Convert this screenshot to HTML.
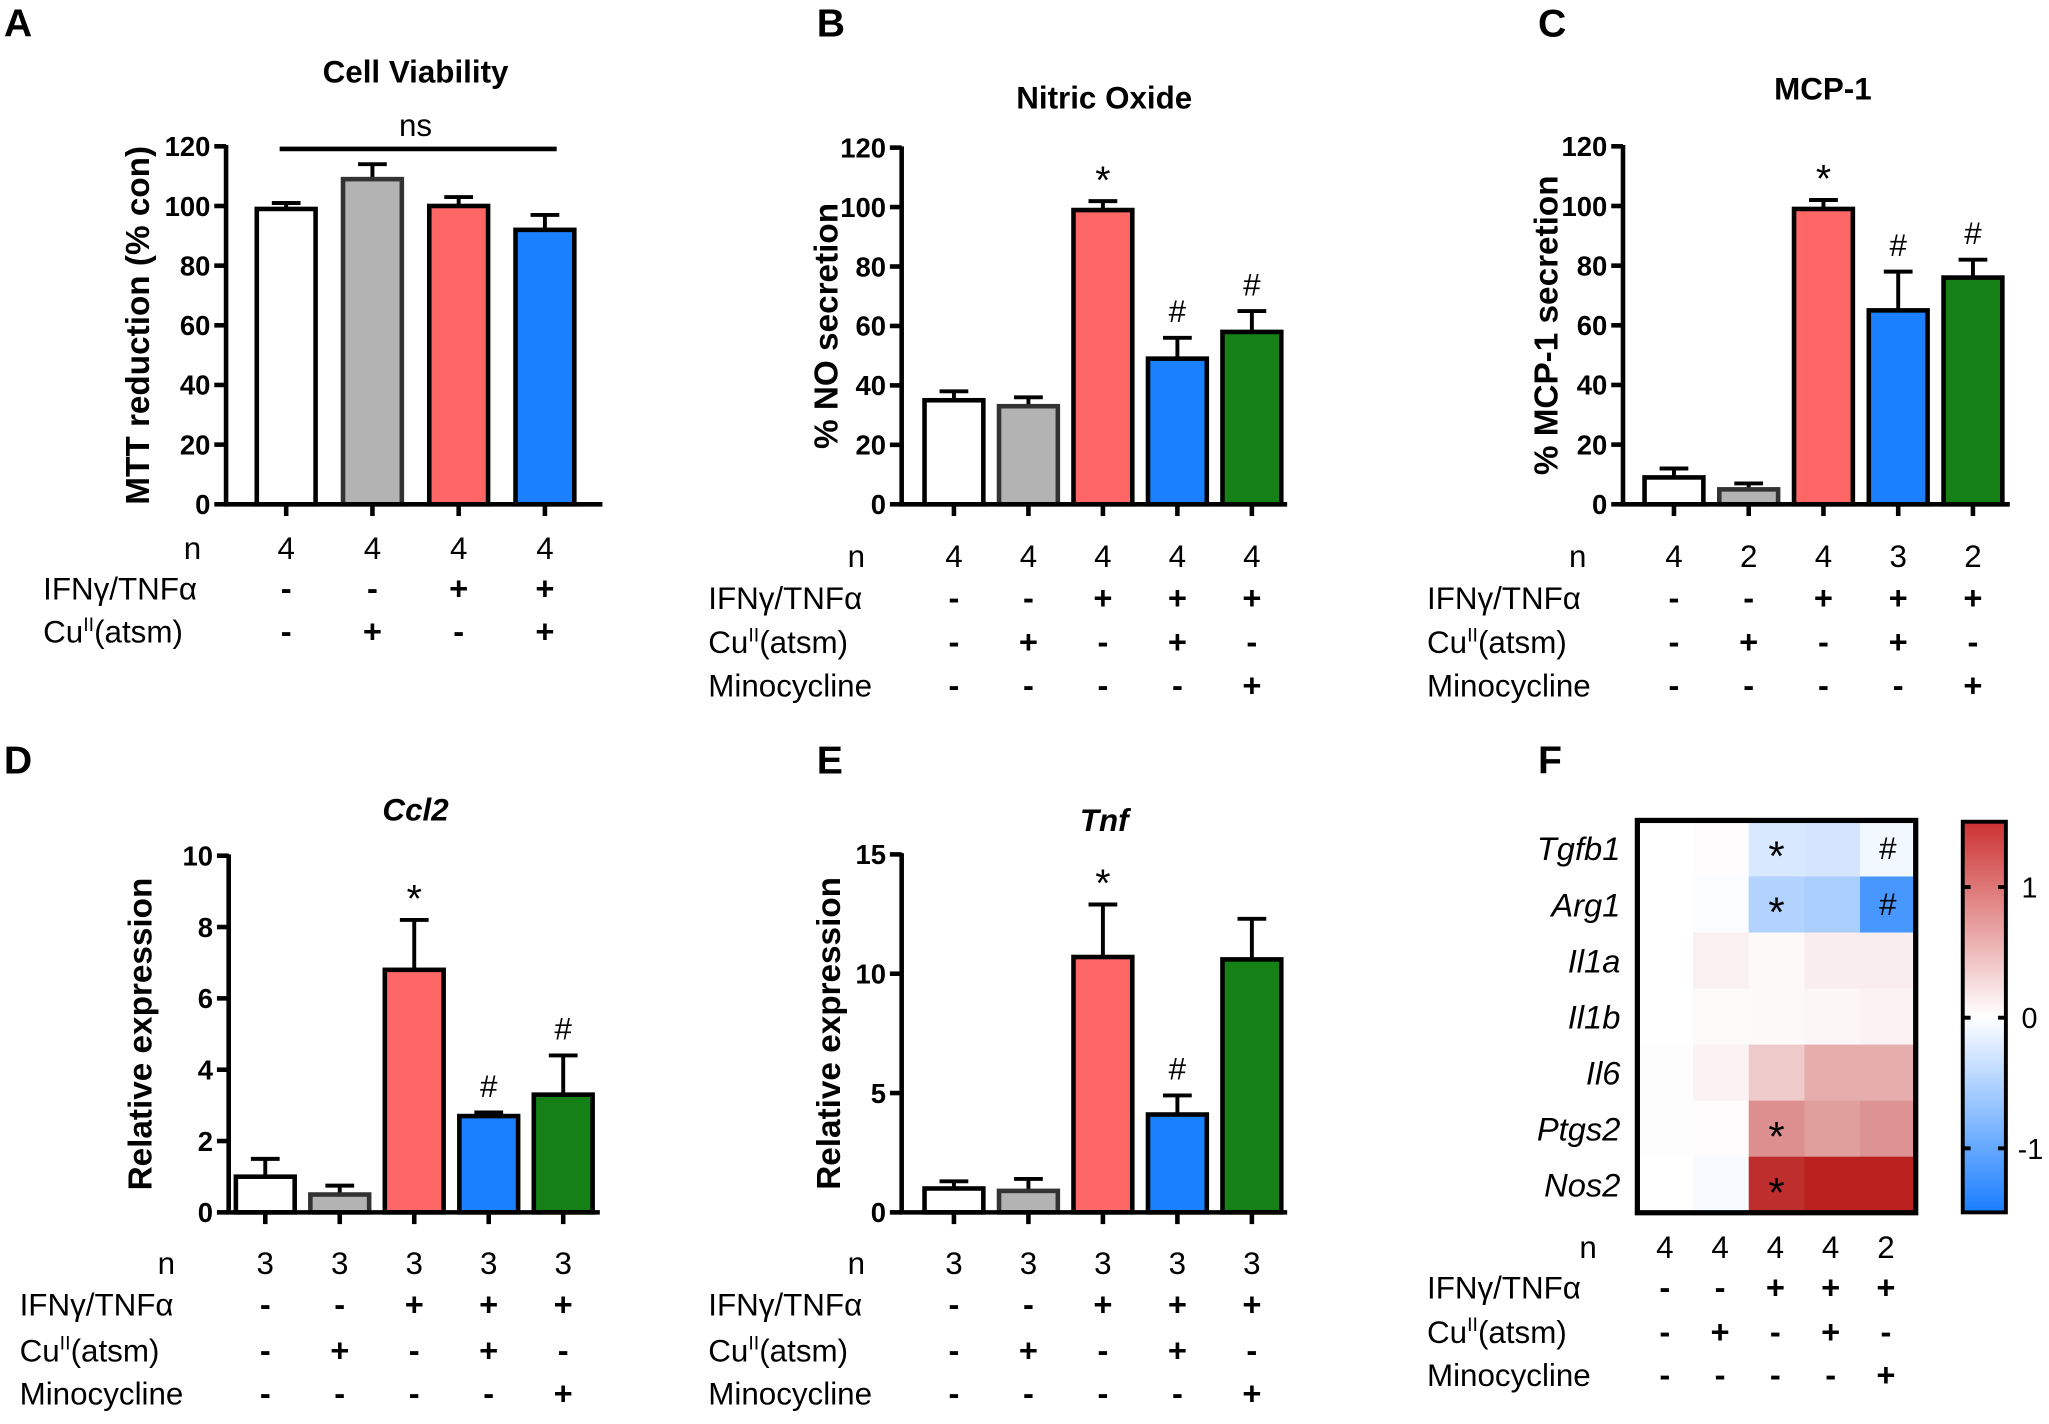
<!DOCTYPE html>
<html><head><meta charset="utf-8"><style>
body{margin:0;background:#fff;}
svg{display:block;}
text{font-family:"Liberation Sans",Arial,sans-serif;fill:#000;}
</style></head><body>
<svg id="fig" width="2049" height="1424" viewBox="0 0 1568 1090" preserveAspectRatio="none" xmlns="http://www.w3.org/2000/svg"></svg>
<script>
// ---- data ----
const aValues=[99,109,100,92];
const aErrors=[2,5,3,5];
const aN=["4","4","4","4"];
const bValues=[35,33,99,49,58];
const bErrors=[3,3,3,7,7];
const bN=["4","4","4","4","4"];
const bAnnot=["","","*","#","#"];
const cValues=[9,5,99,65,76];
const cErrors=[3,2,3,13,6];
const cN=["4","2","4","3","2"];
const cAnnot=["","","*","#","#"];
const dValues=[1.0,0.5,6.8,2.7,3.3];
const dErrors=[0.5,0.25,1.4,0.1,1.1];
const dN=["3","3","3","3","3"];
const dAnnot=["","","*","#","#"];
const eValues=[1.0,0.9,10.7,4.1,10.6];
const eErrors=[0.3,0.5,2.2,0.8,1.7];
const eN=["3","3","3","3","3"];
const eAnnot=["","","*","#",""];
const ticks120=[0,20,40,60,80,100,120];
const ticks10=[0,2,4,6,8,10];
const ticks15=[0,5,10,15];
const heatRows=["Tgfb1","Arg1","Il1a","Il1b","Il6","Ptgs2","Nos2"];
const heatN=["4","4","4","4","2"];
const heatValues=[
 [0,0.02,-0.25,-0.28,-0.08],
 [0,-0.03,-0.5,-0.55,-1.2],
 [0,0.1,0.04,0.12,0.12],
 [0,0.03,0.04,0.06,0.08],
 [0.01,0.08,0.35,0.55,0.55],
 [0.01,0.02,0.75,0.65,0.72],
 [0,-0.05,1.4,1.5,1.5]];
const heatAnnot=[["","","*","","#"],["","","*","","#"],["","","","",""],["","","","",""],["","","","",""],["","","*","",""],["","","*","",""]];
const colorTicks=[1,0,-1];
const ifn4=["-","-","+","+"], cu4=["-","+","-","+"];
const ifn5=["-","-","+","+","+"], cu5=["-","+","-","+","-"], mino5=["-","-","-","-","+"];
const barColors=["#ffffff","#b3b3b3","#ff6666","#1a80ff","#158015"];

const svg=document.getElementById('fig');
const NS="http://www.w3.org/2000/svg";
function el(tag,attrs,parent,txt){const e=document.createElementNS(NS,tag);for(const k in attrs)e.setAttribute(k,attrs[k]);if(txt!==undefined)e.textContent=txt;(parent||svg).appendChild(e);return e;}

function barChart(o){
  const g=el('g',{},svg);
  
  
  const y=v=>o.y0-(v/o.max)*(o.y0-o.yTop);
  const t=el('text',{x:o.titleX,y:o.titleY,'font-size':24,'font-weight':'bold','text-anchor':'middle','font-style':o.italic?'italic':'normal'},g,o.title);
  
  
  const L=el('text',{x:o.letterX,y:o.letterY,'font-size':30,'font-weight':'bold'},g,o.letter);
  
  
  const yl=el('text',{transform:`translate(${o.ylX},${(o.y0+o.yTop)/2}) rotate(-90)`,'font-size':25.5,'font-weight':'bold','text-anchor':'middle'},g,o.ylabel);
  
  
  o.ticks.forEach(tv=>{
    const tl=el('line',{x1:o.ax-9,x2:o.ax,y1:y(tv),y2:y(tv),stroke:'#000','stroke-width':3.5},g);
    
    
    const tt=el('text',{x:o.ax-12,y:y(tv)+7.5,'font-size':21,'font-weight':'bold','text-anchor':'end'},g,String(tv));
    
    
  });
  o.values.forEach((v,i)=>{
    const cx=o.x0+i*o.step;
    const top=y(v), et=y(v+o.errors[i]);
    const eb=el('line',{x1:cx,x2:cx,y1:top,y2:et,stroke:'#000','stroke-width':3},g);
    
    
    const ec=el('line',{x1:cx-11,x2:cx+11,y1:et,y2:et,stroke:'#000','stroke-width':3},g);
    
    
    const r=el('rect',{x:cx-o.bw/2,y:top,width:o.bw,height:o.y0-top,fill:barColors[i],stroke:i==1?'#333':'#000','stroke-width':3.5},g);
    
    
    const xt=el('line',{x1:cx,x2:cx,y1:o.y0,y2:o.y0+9,stroke:'#000','stroke-width':3.5},g);
    
    
    if(o.annot&&o.annot[i]){
      const star=o.annot[i]=='*';
      const a=el('text',{x:cx,y:et-(star?6:12),'font-size':star?30:24,'text-anchor':'middle'},g,o.annot[i]);
      
      
    }
  });
  const ya=el('line',{x1:o.ax,x2:o.ax,y1:o.yTop-1,y2:o.y0+1.5,stroke:'#000','stroke-width':3.5},g);
  
  
  const xa=el('line',{x1:o.ax-1.5,x2:o.xEnd,y1:o.y0,y2:o.y0,stroke:'#000','stroke-width':3.5},g);
  
  
  table(g,o.x0,o.step,o.rows,o.labelX,o.nX);
}
function table(g,x0,step,rows,labelX,nX){
  rows.forEach((r,ri)=>{
    const lab=el('text',{x:r.label=='n'?nX:labelX,y:r.y+8,'font-size':24,'text-anchor':r.label=='n'?'end':'start'},g);
    
    
    if(r.label=='Cu'){lab.textContent='Cu';el('tspan',{'font-size':15,dy:-9},lab,'II');el('tspan',{dy:9},lab,'(atsm)');}
    else if(r.label=='IFN'){lab.textContent='IFNγ/TNFα';}
    else lab.textContent=r.label;
    r.vals.forEach((v,i)=>{
      const t=el('text',{x:x0+i*step,y:r.y+8,'font-size':r.label=='n'?24:25,'text-anchor':'middle','font-weight':r.label=='n'?'normal':'bold'},g,v=='-'?'-':v);
      
      
    });
  });
}

barChart({name:'panel-a-cell-viability',letter:'A',letterX:3,letterY:28,title:'Cell Viability',titleX:318,titleY:63,ylabel:'MTT reduction (% con)',ylX:114,
  values:aValues,errors:aErrors,annot:null,ax:173,y0:386,yTop:112,max:120,ticks:ticks120,x0:219,step:66,bw:45,xEnd:461,
  rows:[{label:'n',y:420,vals:aN},{label:'IFN',y:451,vals:ifn4},{label:'Cu',y:484,vals:cu4}],labelX:33,nX:154});
const ns=el('line',{x1:214,x2:426,y1:114,y2:114,stroke:'#000','stroke-width':3.5});


const nst=el('text',{x:318,y:104,'font-size':24,'text-anchor':'middle'},svg,'ns');



barChart({name:'panel-b-nitric-oxide',letter:'B',letterX:625,letterY:28,title:'Nitric Oxide',titleX:845,titleY:83,ylabel:'% NO secretion',ylX:641,
  values:bValues,errors:bErrors,annot:bAnnot,ax:690,y0:386,yTop:113,max:120,ticks:ticks120,x0:730,step:57,bw:45,xEnd:985,
  rows:[{label:'n',y:426,vals:bN},{label:'IFN',y:458,vals:ifn5},{label:'Cu',y:492,vals:cu5},{label:'Minocycline',y:525,vals:mino5}],labelX:542,nX:662});

barChart({name:'panel-c-mcp1',letter:'C',letterX:1177,letterY:28,title:'MCP-1',titleX:1395,titleY:76,ylabel:'% MCP-1 secretion',ylX:1192,
  values:cValues,errors:cErrors,annot:cAnnot,ax:1242,y0:386,yTop:112,max:120,ticks:ticks120,x0:1281,step:57.2,bw:45,xEnd:1538,
  rows:[{label:'n',y:426,vals:cN},{label:'IFN',y:458,vals:ifn5},{label:'Cu',y:492,vals:cu5},{label:'Minocycline',y:525,vals:mino5}],labelX:1092,nX:1214});

barChart({name:'panel-d-ccl2',letter:'D',letterX:3,letterY:592,title:'Ccl2',titleX:318,titleY:628,italic:true,ylabel:'Relative expression',ylX:116,
  values:dValues,errors:dErrors,annot:dAnnot,ax:175,y0:928,yTop:655,max:10,ticks:ticks10,x0:203,step:57,bw:45,xEnd:459,
  rows:[{label:'n',y:967,vals:dN},{label:'IFN',y:999,vals:ifn5},{label:'Cu',y:1034,vals:cu5},{label:'Minocycline',y:1067,vals:mino5}],labelX:15,nX:134});

barChart({name:'panel-e-tnf',letter:'E',letterX:625,letterY:592,title:'Tnf',titleX:845,titleY:636,italic:true,ylabel:'Relative expression',ylX:643,
  values:eValues,errors:eErrors,annot:eAnnot,ax:690,y0:928,yTop:654,max:15,ticks:ticks15,x0:730,step:57,bw:45,xEnd:985,
  rows:[{label:'n',y:967,vals:eN},{label:'IFN',y:999,vals:ifn5},{label:'Cu',y:1034,vals:cu5},{label:'Minocycline',y:1067,vals:mino5}],labelX:542,nX:662});

// ---- heatmap ----
(function(){
  const g=el('g',{},svg);
  
  
  const L=el('text',{x:1177,y:592,'font-size':30,'font-weight':'bold'},g,'F');
  
  
  const hx=1253,hy=628,cw=42.6,ch=42.9;
  function col(v){
    const t=Math.max(-1,Math.min(1,v/1.5));
    let r,gg,b;
    if(t>=0){r=255+(185-255)*t;gg=255+(32-255)*t;b=255+(30-255)*t;}
    else{const s=-t;r=255+(25-255)*s;gg=255+(125-255)*s;b=255;}
    return `rgb(${r|0},${gg|0},${b|0})`;
  }
  heatValues.forEach((row,ri)=>{
    row.forEach((v,ci)=>{
      const c=el('rect',{x:hx+ci*cw,y:hy+ri*ch,width:cw+0.5,height:ch+0.5,fill:col(v)},g);
      
      
      if(heatAnnot[ri][ci]){
        const star=heatAnnot[ri][ci]=='*';
        const a=el('text',{x:hx+ci*cw+cw/2,y:hy+ri*ch+ch/2+(star?17:8),'font-size':star?32:24,'text-anchor':'middle'},g,heatAnnot[ri][ci]);
        
        
      }
    });
    const rl=el('text',{x:1240,y:hy+ri*ch+ch/2+9,'font-size':25,'font-style':'italic','text-anchor':'end'},g,heatRows[ri]);
    
    
  });
  const bx=el('rect',{x:hx,y:hy,width:cw*5,height:ch*7,fill:'none',stroke:'#000','stroke-width':4},g);
  
  
  const defs=el('defs',{},g);
  const lg=el('linearGradient',{id:'cg',x1:0,y1:0,x2:0,y2:1},defs);
  el('stop',{offset:'0','stop-color':'rgb(205,50,50)'},lg);
  el('stop',{offset:'0.5','stop-color':'#ffffff'},lg);
  el('stop',{offset:'1','stop-color':'rgb(25,125,255)'},lg);
  const cb=el('rect',{x:1502,y:629,width:33,height:299,fill:'url(#cg)',stroke:'#000','stroke-width':3},g);
  
  
  const cy=v=>779-v*100;
  colorTicks.forEach(v=>{
    const tk=el('line',{x1:1529,x2:1535,y1:cy(v),y2:cy(v),stroke:'#000','stroke-width':3},g);
    
    
    const tk2=el('line',{x1:1502,x2:1508,y1:cy(v),y2:cy(v),stroke:'#000','stroke-width':3},g);
    
    
    const tt=el('text',{x:v<0?1544:1547,y:cy(v)+8,'font-size':22},g,String(v));
    
    
  });
  table(g,1274,42.3,[{label:'n',y:955,vals:heatN},{label:'IFN',y:986,vals:ifn5},{label:'Cu',y:1020,vals:cu5},{label:'Minocycline',y:1053,vals:mino5}],1092,1222);
})();
</script>
</body></html>
